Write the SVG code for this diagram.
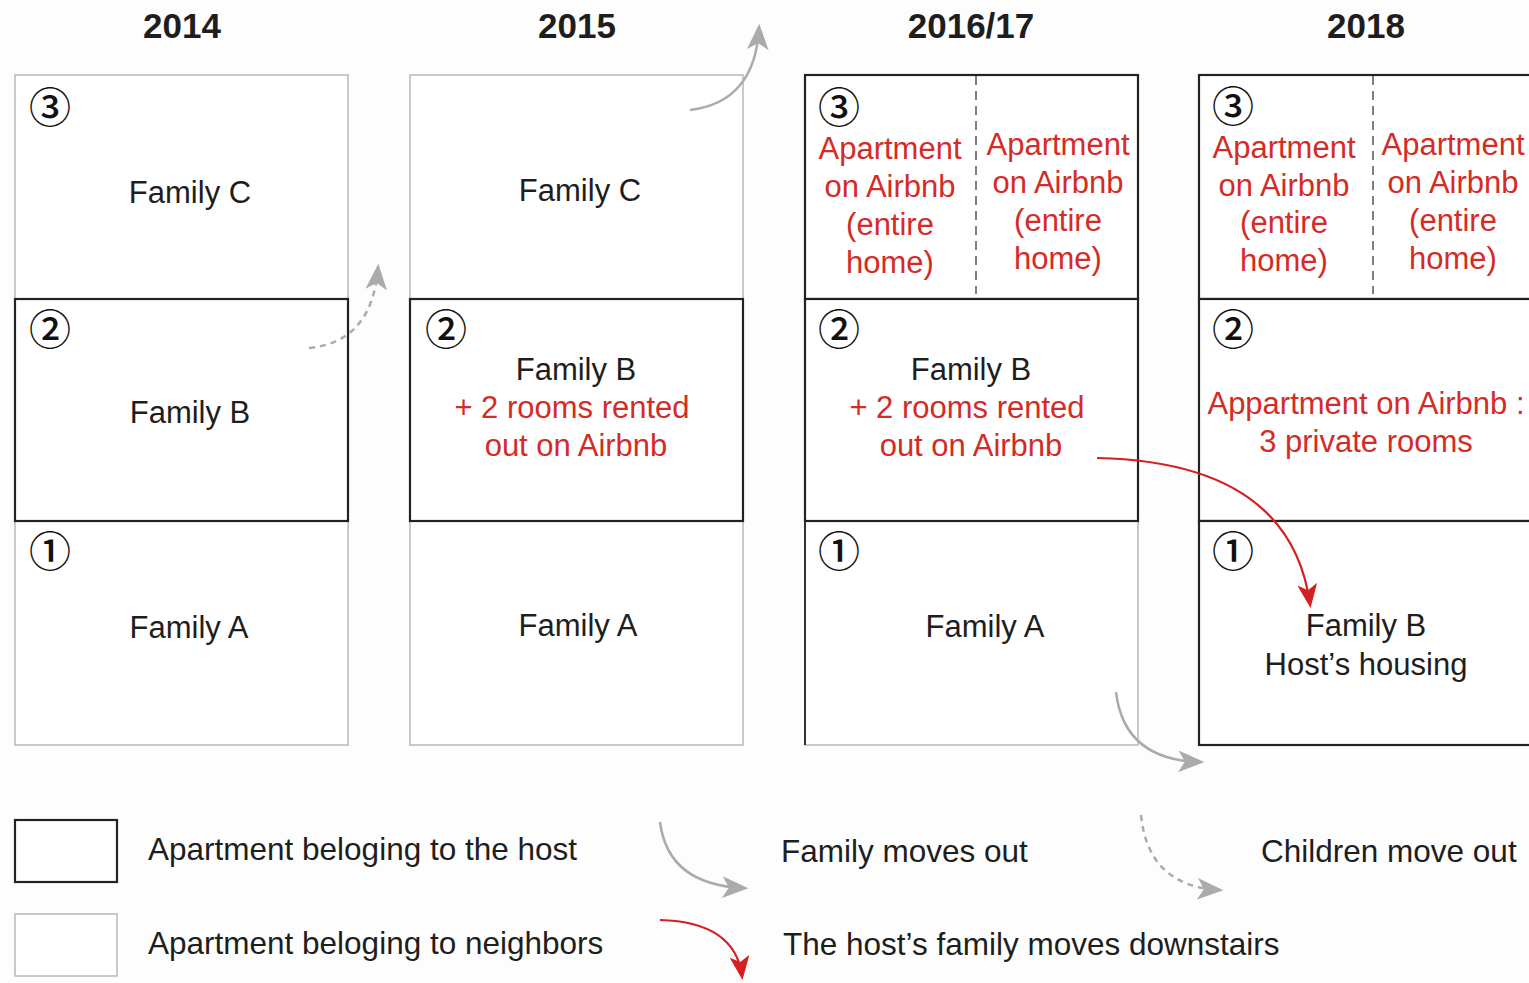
<svg xmlns="http://www.w3.org/2000/svg" width="1529" height="983" viewBox="0 0 1529 983">
<defs>
<style>
.t{font-family:"Liberation Sans",Arial,sans-serif;font-size:31px;fill:#1e1e1e;text-anchor:middle}
.r{fill:#d42b27}
.yr{font-family:"Liberation Sans",Arial,sans-serif;font-size:35px;font-weight:bold;fill:#1e1e1e;text-anchor:middle}
.n{font-family:"Noto Sans CJK JP","DejaVu Sans",sans-serif;font-size:42px;font-weight:500;fill:#111;text-anchor:middle}
.lg{font-family:"Liberation Sans",Arial,sans-serif;font-size:31.5px;fill:#1e1e1e}
.g{fill:#fff;stroke:#b8b8b8;stroke-width:1.5}
.k{fill:#fff;stroke:#222;stroke-width:2.2}
.dv{stroke:#555;stroke-width:1.5;stroke-dasharray:9 6}
.ga{fill:none;stroke:#ababab;stroke-width:2.5}
.gd{fill:none;stroke:#ababab;stroke-width:2.5;stroke-dasharray:6 5}
.ra{fill:none;stroke:#d42020;stroke-width:2.2}
</style>
<marker id="mgl" viewBox="0 0 12 10" refX="10" refY="5" markerWidth="26" markerHeight="22" markerUnits="userSpaceOnUse" orient="auto">
<path d="M0,0 L12,5 L0,10 L3,5 z" fill="#ababab"/>
</marker>
<marker id="mr" viewBox="0 0 12 10" refX="10" refY="5" markerWidth="24" markerHeight="20" markerUnits="userSpaceOnUse" orient="auto">
<path d="M0,0 L12,5 L0,10 L3,5 z" fill="#d42020"/>
</marker>
</defs>
<rect x="0" y="0" width="1529" height="983" fill="#fdfdfd"/>

<g id="years">
<text class="yr" x="182" y="38">2014</text>
<text class="yr" x="577" y="38">2015</text>
<text class="yr" x="971" y="38">2016/17</text>
<text class="yr" x="1366" y="38">2018</text>
</g>

<g id="col2014">
<rect class="g" x="15" y="75" width="333" height="224"/>
<rect class="g" x="15" y="521" width="333" height="224"/>
<rect class="k" x="15" y="299" width="333" height="222"/>
<text class="n" x="50" y="123">③</text>
<text class="n" x="50" y="345">②</text>
<text class="n" x="50" y="567">①</text>
<text class="t" x="190" y="203">Family C</text>
<text class="t" x="190" y="423">Family B</text>
<text class="t" x="189" y="638">Family A</text>
</g>

<g id="col2015">
<rect class="g" x="410" y="75" width="333" height="224"/>
<rect class="g" x="410" y="521" width="333" height="224"/>
<rect class="k" x="410" y="299" width="333" height="222"/>
<text class="n" x="446" y="345">②</text>
<text class="t" x="580" y="201">Family C</text>
<text class="t" x="576" y="380">Family B</text>
<text class="t r" x="572" y="418">+ 2 rooms rented</text>
<text class="t r" x="576" y="456">out on Airbnb</text>
<text class="t" x="578" y="636">Family A</text>
</g>

<g id="col2016">
<rect class="g" x="805" y="521" width="333" height="224"/>
<line x1="805" y1="521" x2="805" y2="745" stroke="#222" stroke-width="1.8"/>
<rect class="k" x="805" y="75" width="333" height="224"/>
<rect class="k" x="805" y="299" width="333" height="222"/>
<line class="dv" x1="976" y1="76" x2="976" y2="294"/>
<text class="n" x="839" y="123">③</text>
<text class="n" x="839" y="345">②</text>
<text class="n" x="839" y="567">①</text>
<text class="t r" x="890" y="159">Apartment</text>
<text class="t r" x="890" y="197">on Airbnb</text>
<text class="t r" x="890" y="235">(entire</text>
<text class="t r" x="890" y="273">home)</text>
<text class="t r" x="1058" y="155">Apartment</text>
<text class="t r" x="1058" y="193">on Airbnb</text>
<text class="t r" x="1058" y="231">(entire</text>
<text class="t r" x="1058" y="269">home)</text>
<text class="t" x="971" y="380">Family B</text>
<text class="t r" x="967" y="418">+ 2 rooms rented</text>
<text class="t r" x="971" y="456">out on Airbnb</text>
<text class="t" x="985" y="637">Family A</text>
</g>

<g id="col2018">
<rect class="k" x="1199" y="75" width="340" height="224"/>
<rect class="k" x="1199" y="299" width="340" height="222"/>
<rect class="k" x="1199" y="521" width="340" height="224"/>
<line class="dv" x1="1373" y1="76" x2="1373" y2="294"/>
<text class="n" x="1233" y="122">③</text>
<text class="n" x="1233" y="345">②</text>
<text class="n" x="1233" y="567">①</text>
<text class="t r" x="1284" y="158">Apartment</text>
<text class="t r" x="1284" y="196">on Airbnb</text>
<text class="t r" x="1284" y="233">(entire</text>
<text class="t r" x="1284" y="271">home)</text>
<text class="t r" x="1453" y="155">Apartment</text>
<text class="t r" x="1453" y="193">on Airbnb</text>
<text class="t r" x="1453" y="231">(entire</text>
<text class="t r" x="1453" y="269">home)</text>
<text class="t r" x="1366" y="414">Appartment on Airbnb :</text>
<text class="t r" x="1366" y="452">3 private rooms</text>
<text class="t" x="1366" y="636">Family B</text>
<text class="t" x="1366" y="675">Host’s housing</text>
</g>

<g id="connectors">
<path class="gd" d="M309,348 Q372,342 378,268" marker-end="url(#mgl)"/>
<path class="ga" d="M690,110 Q755,102 759,28" marker-end="url(#mgl)"/>
<path class="ga" d="M1116,692 Q1124,760 1200,762" marker-end="url(#mgl)"/>
<path class="ra" d="M1097,458 Q1290,462 1310,604" marker-end="url(#mr)"/>
</g>

<g id="legend">
<rect x="15" y="820" width="102" height="62" fill="#fff" stroke="#222" stroke-width="2.2"/>
<rect x="15" y="914" width="102" height="62" fill="#fff" stroke="#b8b8b8" stroke-width="1.5"/>
<text class="lg" x="148" y="860">Apartment beloging to the host</text>
<text class="lg" x="148" y="954">Apartment beloging to neighbors</text>
<path class="ga" d="M660,822 Q668,885 744,888" marker-end="url(#mgl)"/>
<path class="ra" d="M660,920 Q735,922 742,976" marker-end="url(#mr)"/>
<path class="gd" d="M1141,815 Q1148,886 1219,890" marker-end="url(#mgl)"/>
<text class="lg" x="781" y="862">Family moves out</text>
<text class="lg" x="783" y="955">The host’s family moves downstairs</text>
<text class="lg" x="1261" y="862">Children move out</text>
</g>
</svg>
